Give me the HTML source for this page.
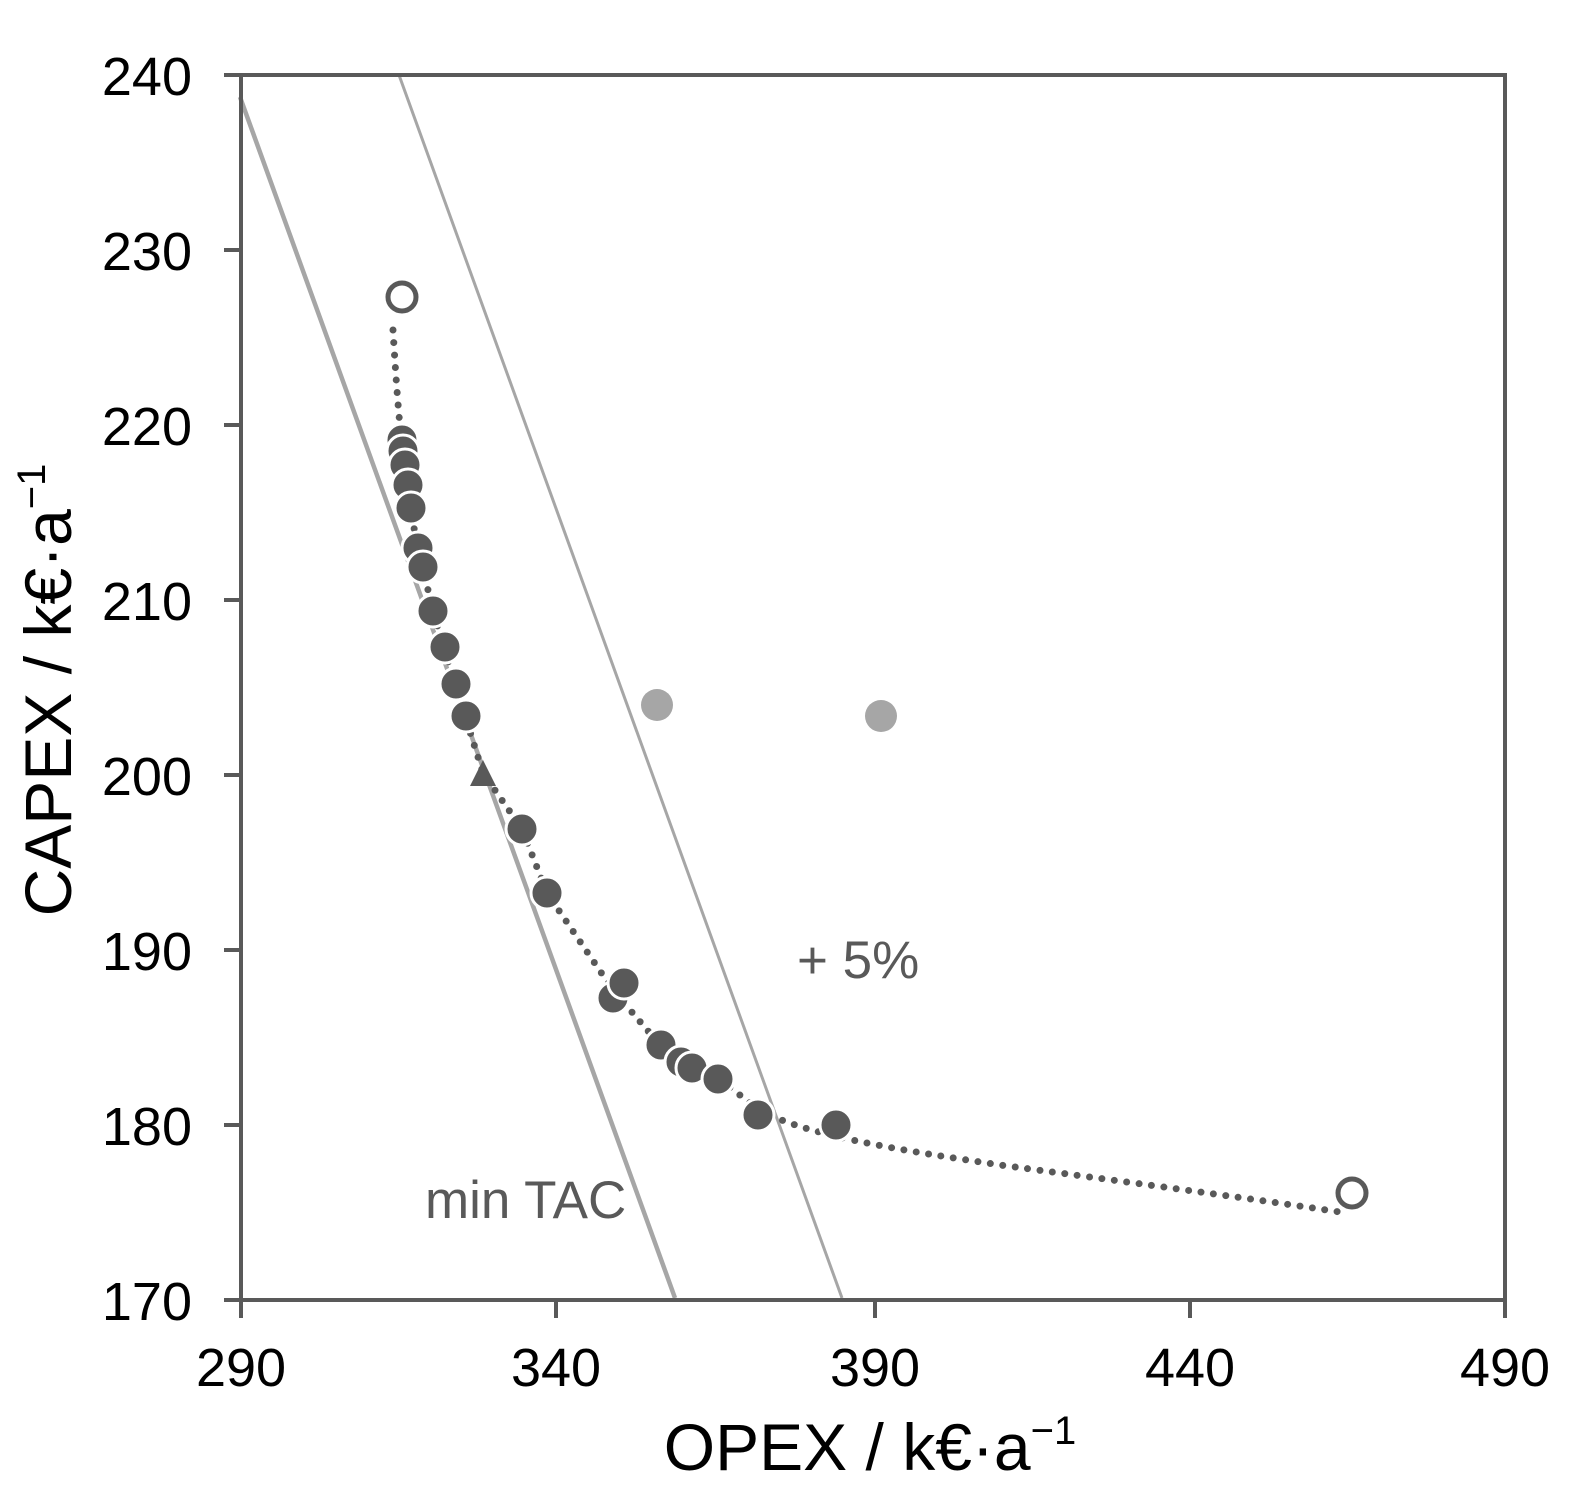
<!DOCTYPE html>
<html><head><meta charset="utf-8"><style>
body{margin:0;background:#fff}
svg{display:block}
text{font-family:"Liberation Sans",sans-serif}
</style></head><body>
<svg width="1571" height="1490" viewBox="0 0 1571 1490">
<rect width="1571" height="1490" fill="#fff"/>
<line x1="240" y1="97" x2="675" y2="1298" stroke="#a6a6a6" stroke-width="4.5"/>
<line x1="399" y1="75" x2="842" y2="1298" stroke="#a6a6a6" stroke-width="3"/>
<path d="M393,330 C396,380 399,420 402,445 L410,508 L418,548 L433,611 L455,684 L483,773 L522,829 L547,893 L613,990 L660,1045 L716,1077 L757,1108 C800,1135 900,1150 1000,1165 C1150,1185 1260,1200 1340,1212" fill="none" stroke="#595959" stroke-width="7" stroke-linecap="round" stroke-dasharray="0 12.5"/>
<circle cx="657" cy="705" r="16" fill="#a6a6a6"/>
<circle cx="881" cy="716" r="16" fill="#a6a6a6"/>
<g fill="#595959" stroke="#fff" stroke-width="3">
<circle cx="402" cy="440" r="16"/>
<circle cx="403" cy="451" r="16"/>
<circle cx="405" cy="465" r="16"/>
<circle cx="408" cy="485" r="16"/>
<circle cx="411" cy="508" r="16"/>
<circle cx="418" cy="548" r="16"/>
<circle cx="423" cy="567" r="16"/>
<circle cx="433" cy="611" r="16"/>
<circle cx="445" cy="647" r="16"/>
<circle cx="456" cy="684" r="16"/>
<circle cx="466" cy="716" r="16"/>
<circle cx="522" cy="829" r="16"/>
<circle cx="547" cy="893" r="16"/>
<circle cx="613" cy="998" r="16"/>
<circle cx="624" cy="983" r="16"/>
<circle cx="661" cy="1045" r="16"/>
<circle cx="681" cy="1062" r="16"/>
<circle cx="692" cy="1068" r="16"/>
<circle cx="718" cy="1079" r="16"/>
<circle cx="758" cy="1115" r="16"/>
<circle cx="836" cy="1125" r="16"/>
</g>
<polygon points="483,760 470,786 496,786" fill="#595959"/>
<circle cx="402" cy="297" r="14" fill="#fff" stroke="#595959" stroke-width="5"/>
<circle cx="1352" cy="1193" r="14" fill="#fff" stroke="#595959" stroke-width="5"/>
<rect x="241" y="75" width="1264" height="1225" fill="none" stroke="#595959" stroke-width="4"/>
<g stroke="#595959" stroke-width="4">
<line x1="241" y1="1300" x2="241" y2="1318"/><line x1="556" y1="1300" x2="556" y2="1318"/><line x1="875" y1="1300" x2="875" y2="1318"/><line x1="1190" y1="1300" x2="1190" y2="1318"/><line x1="1505" y1="1300" x2="1505" y2="1318"/>
<line x1="224" y1="75" x2="241" y2="75"/><line x1="224" y1="250" x2="241" y2="250"/><line x1="224" y1="425" x2="241" y2="425"/><line x1="224" y1="600" x2="241" y2="600"/><line x1="224" y1="775" x2="241" y2="775"/><line x1="224" y1="950" x2="241" y2="950"/><line x1="224" y1="1125" x2="241" y2="1125"/><line x1="224" y1="1300" x2="241" y2="1300"/>
</g>
<g font-size="54" fill="#000" text-anchor="end">
<text x="192" y="95">240</text><text x="192" y="270">230</text><text x="192" y="445">220</text><text x="192" y="620">210</text><text x="192" y="795">200</text><text x="192" y="970">190</text><text x="192" y="1145">180</text><text x="192" y="1320">170</text>
</g>
<g font-size="54" fill="#000" text-anchor="middle">
<text x="241" y="1386">290</text><text x="556" y="1386">340</text><text x="875" y="1386">390</text><text x="1190" y="1386">440</text><text x="1505" y="1386">490</text>
</g>
<text x="870" y="1470" font-size="66" text-anchor="middle">OPEX / k€·a<tspan font-size="40" dy="-26">−1</tspan></text>
<text transform="translate(71,690) rotate(-90)" font-size="66" text-anchor="middle">CAPEX / k€·a<tspan font-size="40" dy="-26">−1</tspan></text>
<text x="797" y="978" font-size="53" fill="#595959">+ 5%</text>
<text x="425" y="1218" font-size="53" fill="#595959">min TAC</text>
</svg>
</body></html>
